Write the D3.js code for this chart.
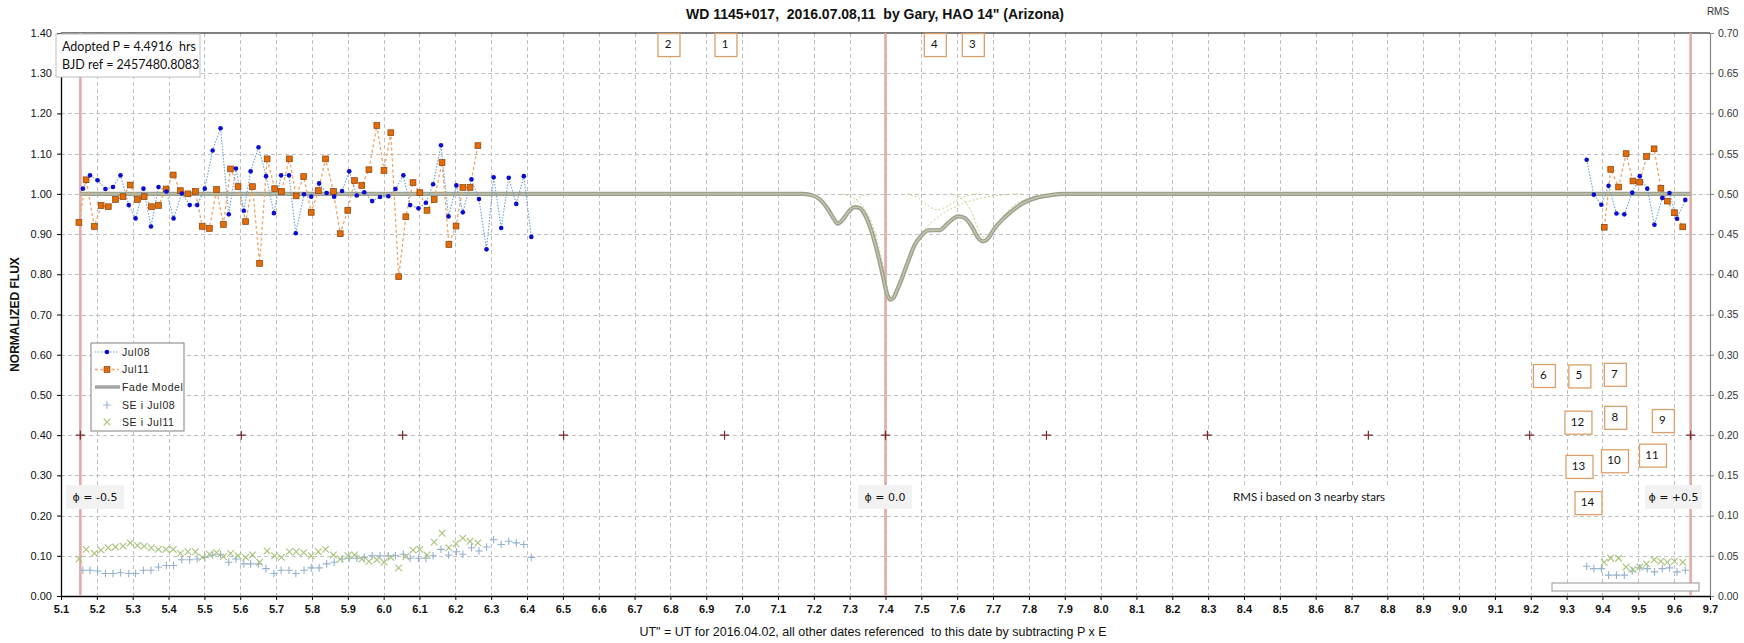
<!DOCTYPE html>
<html><head><meta charset="utf-8">
<script src="https://cdn.jsdelivr.net/npm/d3@7"></script>
<style>body{margin:0;background:#fff} svg{display:block} text{white-space:pre}</style>
</head><body><svg id="c" width="1744" height="643"></svg>
<script>
// ---------------- DATA ----------------
const jul08Time = [5.161,5.181,5.202,5.224,5.245,5.266,5.289,5.308,5.330,5.351,5.372,5.394,5.414,5.437,5.459,5.480,5.501,5.523,5.545,5.568,5.588,5.610,5.629,5.651,5.672,5.694,5.714,5.736,5.755,5.778,5.798,5.820,5.841,5.862,5.884,5.904,5.925,5.946,5.968,5.990,6.013,6.033,6.055,6.074,6.097,6.118,6.138,6.160,6.181,6.203,6.221,6.245,6.266,6.287,6.307,6.328,6.349,6.370,6.391,6.412];
const jul08Flux = [1.013,1.046,1.034,1.012,1.017,1.046,0.972,0.939,1.013,0.919,1.017,1.006,0.939,1.001,0.972,0.972,1.013,1.108,1.163,0.949,1.063,0.958,1.056,1.116,1.044,0.952,1.046,1.046,0.902,0.999,0.993,1.026,1.002,0.993,1.007,1.056,0.996,1.004,0.982,0.992,0.994,1.012,1.046,0.972,0.964,0.978,1.024,1.121,0.944,1.021,0.954,1.036,0.987,0.862,1.041,0.915,1.040,0.975,1.044,0.893];
const jul08SE   = [0.032,0.032,0.031,0.028,0.028,0.029,0.028,0.028,0.032,0.032,0.036,0.038,0.038,0.045,0.045,0.046,0.048,0.051,0.052,0.042,0.046,0.040,0.040,0.040,0.034,0.028,0.032,0.032,0.028,0.032,0.035,0.035,0.040,0.042,0.046,0.047,0.047,0.048,0.050,0.050,0.050,0.050,0.052,0.047,0.047,0.047,0.050,0.058,0.051,0.055,0.052,0.060,0.056,0.061,0.070,0.064,0.068,0.066,0.064,0.048];
const jul08TimeB = [9.356,9.376,9.397,9.417,9.439,9.461,9.483,9.504,9.525,9.545,9.567,9.587,9.608,9.631];
const jul08FluxB = [1.085,0.998,0.973,1.020,0.951,0.949,1.003,1.044,1.013,0.923,0.990,1.002,0.938,0.985];
const jul08SEB   = [0.037,0.034,0.034,0.026,0.026,0.026,0.031,0.035,0.034,0.030,0.034,0.035,0.030,0.032];

const jul11Time = [5.150,5.170,5.193,5.212,5.232,5.252,5.273,5.293,5.313,5.332,5.352,5.372,5.393,5.413,5.433,5.454,5.475,5.494,5.514,5.534,5.553,5.573,5.594,5.615,5.634,5.654,5.675,5.696,5.715,5.737,5.756,5.777,5.798,5.818,5.838,5.860,5.879,5.900,5.919,5.939,5.959,5.981,6.001,6.020,6.042,6.062,6.082,6.101,6.121,6.141,6.163,6.182,6.202,6.221,6.241,6.263];
const jul11Flux = [0.929,1.035,0.919,0.971,0.968,0.986,0.993,1.022,0.986,0.993,0.968,0.971,1.012,1.047,1.008,1.000,1.006,0.919,0.914,1.011,0.924,1.062,1.018,0.931,1.018,0.827,1.087,1.013,1.006,1.087,0.995,1.043,0.954,1.008,1.087,1.006,0.901,0.959,1.033,1.021,1.060,1.170,1.058,1.152,0.794,0.943,1.028,1.003,0.959,0.986,1.078,0.874,0.920,1.016,1.016,1.120];
const jul11SE   = [0.046,0.058,0.053,0.057,0.060,0.061,0.062,0.066,0.063,0.062,0.060,0.058,0.058,0.058,0.053,0.055,0.055,0.048,0.052,0.054,0.049,0.053,0.050,0.048,0.051,0.042,0.056,0.050,0.048,0.055,0.055,0.054,0.050,0.055,0.058,0.051,0.046,0.050,0.051,0.046,0.043,0.045,0.042,0.048,0.035,0.049,0.057,0.058,0.051,0.067,0.078,0.060,0.065,0.072,0.068,0.066];
const jul11TimeB = [9.405,9.423,9.445,9.466,9.485,9.504,9.523,9.544,9.563,9.581,9.601,9.624];
const jul11FluxB = [0.917,1.061,1.017,1.100,1.032,1.029,1.093,1.112,1.014,0.982,0.953,0.918];
const jul11SEB   = [0.042,0.047,0.047,0.036,0.033,0.036,0.040,0.045,0.043,0.042,0.043,0.042];

const modelTime = [5.154,7.166,7.193,7.217,7.240,7.257,7.266,7.277,7.296,7.314,7.328,7.342,7.361,7.380,7.393,7.403,7.413,7.423,7.433,7.445,7.463,7.482,7.500,7.519,7.552,7.575,7.603,7.621,7.640,7.659,7.673,7.687,7.705,7.724,7.750,7.780,7.820,7.860,7.900,9.646];
const modelFlux = [1.000,1.000,0.997,0.986,0.961,0.936,0.926,0.932,0.954,0.967,0.965,0.949,0.907,0.845,0.795,0.755,0.737,0.742,0.762,0.788,0.832,0.874,0.896,0.909,0.910,0.928,0.944,0.940,0.920,0.890,0.882,0.890,0.915,0.934,0.955,0.975,0.990,0.997,1.000,1.000];

const comp1Time = [7.15,7.19,7.22,7.245,7.266,7.285,7.305,7.33,7.36];
const comp1Flux = [1,0.997,0.982,0.95,0.928,0.945,0.972,0.993,1];
const comp2Time = [7.28,7.31,7.34,7.37,7.395,7.413,7.435,7.46,7.50,7.55,7.60,7.66,7.72,7.78];
const comp2Flux = [1,0.99,0.965,0.905,0.815,0.745,0.775,0.83,0.90,0.945,0.97,0.988,0.997,1];
const comp3Time = [7.46,7.49,7.52,7.545,7.57,7.60,7.63,7.66];
const comp3Flux = [1,0.99,0.97,0.96,0.968,0.985,0.996,1];
const comp4Time = [7.58,7.61,7.64,7.66,7.677,7.695,7.72,7.76,7.80,7.85];
const comp4Flux = [1,0.99,0.955,0.91,0.89,0.9,0.935,0.972,0.99,1];

const phaseLines = [5.154, 7.400, 9.646];
const phaseLineLabels = ["\u03D5 = -0.5", "\u03D5 = 0.0", "\u03D5 = +0.5"];
const phaseTicks = [5.154,5.603,6.053,6.502,6.951,7.400,7.849,8.298,8.747,9.197,9.646];
const phaseTickLevel = 0.40;

const fragLabels = ["2","1","4","3","6","5","7","12","8","9","13","10","11","14"];
const fragTime   = [6.796,6.955,7.539,7.645,9.238,9.337,9.436,9.333,9.437,9.570,9.336,9.435,9.541,9.361];
const fragFlux   = [1.370,1.370,1.370,1.370,0.547,0.546,0.550,0.431,0.443,0.435,0.321,0.335,0.349,0.231];

const legendLabels = ["Jul08","Jul11","Fade Model","SE i Jul08","SE i Jul11"];
const titleText = "WD 1145+017,  2016.07.08,11  by Gary, HAO 14\" (Arizona)";
const xTitle = "UT\" = UT for 2016.04.02, all other dates referenced  to this date by subtracting P x E";
const yTitle = "NORMALIZED FLUX";
const infoLines = ["Adopted P = 4.4916  hrs", "BJD ref = 2457480.8083"];
const rmsNote = "RMS i based on 3 nearby stars";

// ---------------- CHART ----------------
const svg = d3.select("#c");
const L = 61, R = 1710, T = 33, B = 596;
const x = d3.scaleLinear().domain([5.1, 9.7]).range([L, R]);
const y = d3.scaleLinear().domain([0, 1.4]).range([B, T]);
const yR = d3.scaleLinear().domain([0, 0.7]).range([B, T]);

const xTicks = d3.range(0, 47).map(i => +(5.1 + i * 0.1).toFixed(1));
const yTicks = d3.range(0, 15).map(i => +(i * 0.1).toFixed(1));
const yRTicks = d3.range(0, 15).map(i => +(i * 0.05).toFixed(2));

const grid = svg.append("g").attr("stroke", "#c0c0c0").attr("stroke-width", 1).attr("stroke-dasharray", "4,3");
grid.selectAll(".vg").data(xTicks.slice(1, -1)).join("line")
  .attr("x1", d => Math.round(x(d)) + 0.5).attr("x2", d => Math.round(x(d)) + 0.5).attr("y1", T).attr("y2", B);
grid.selectAll(".hg").data(yTicks.slice(1, -1)).join("line")
  .attr("y1", d => Math.round(y(d)) + 0.5).attr("y2", d => Math.round(y(d)) + 0.5).attr("x1", L).attr("x2", R);

// axes
const axL = svg.append("g").attr("transform", `translate(${L},0)`)
  .call(d3.axisLeft(y).tickValues(yTicks).tickFormat(d3.format(".2f")).tickSize(4).tickSizeOuter(0));
axL.select(".domain").attr("stroke", "#000").attr("stroke-width", 1.3);
axL.selectAll("text").attr("font-family", "Liberation Sans, Arial, sans-serif").attr("font-size", 11).attr("fill", "#111").attr("x", -9);

const axR = svg.append("g").attr("transform", `translate(${R},0)`)
  .call(d3.axisRight(yR).tickValues(yRTicks).tickFormat(d3.format(".2f")).tickSize(4).tickSizeOuter(0));
axR.select(".domain").attr("stroke", "#868686").attr("stroke-width", 1.2);
axR.selectAll(".tick line").attr("stroke", "#868686");
axR.selectAll("text").attr("font-family", "Liberation Sans, Arial, sans-serif").attr("font-size", 10.5).attr("fill", "#333").attr("x", 8);

const axB = svg.append("g").attr("transform", `translate(0,${B})`)
  .call(d3.axisBottom(x).tickValues(xTicks).tickFormat(d3.format(".1f")).tickSize(4).tickSizeOuter(0));
axB.select(".domain").attr("stroke", "#000").attr("stroke-width", 1.5);
axB.selectAll("text").attr("font-family", "Liberation Sans, Arial, sans-serif").attr("font-size", 11).attr("font-weight", "bold").attr("fill", "#111").attr("y", 9);

svg.append("line").attr("x1", L).attr("x2", R).attr("y1", T).attr("y2", T).attr("stroke", "#000").attr("stroke-width", 1.2);

// phase lines
svg.append("g").selectAll("line").data(phaseLines).join("line")
  .attr("x1", d => x(d)).attr("x2", d => x(d)).attr("y1", T).attr("y2", B)
  .attr("stroke", "#e3aca7").attr("stroke-width", 2.6);

// phase tick markers
const plus = (s) => `M${-s},0H${s}M0,${-s}V${s}`;
const cross = (s) => `M${-s},${-s}L${s},${s}M${-s},${s}L${s},${-s}`;
svg.append("g").selectAll("path").data(phaseTicks).join("path")
  .attr("transform", d => `translate(${x(d)},${y(phaseTickLevel)})`)
  .attr("d", plus(4.5)).attr("stroke", "#7a2a2a").attr("stroke-width", 1.2).attr("fill", "none");

// model components
const compLine = d3.line().x(d => x(d[0])).y(d => y(d[1])).curve(d3.curveMonotoneX);
const comps = [[comp1Time, comp1Flux], [comp2Time, comp2Flux], [comp3Time, comp3Flux], [comp4Time, comp4Flux]];
svg.append("g").selectAll("path").data(comps).join("path")
  .attr("d", c => compLine(d3.zip(c[0], c[1])))
  .attr("fill", "none").attr("stroke", "#bfd290").attr("stroke-width", 1).attr("stroke-dasharray", "2,2");

// model
const modelPts = d3.zip(modelTime, modelFlux);
svg.append("path").attr("d", compLine(modelPts)).attr("fill", "none").attr("stroke", "#9ea08f").attr("stroke-width", 4.2).attr("stroke-linejoin", "round");
svg.append("path").attr("d", compLine(modelPts)).attr("fill", "none").attr("stroke", "#c4c8ae").attr("stroke-width", 1.4).attr("stroke-linejoin", "round");

// SE markers
function seMarks(times, vals, shape, color) {
  svg.append("g").selectAll("path").data(d3.zip(times, vals)).join("path")
    .attr("transform", d => `translate(${x(d[0])},${yR(d[1])})`)
    .attr("d", shape).attr("stroke", color).attr("stroke-width", 1.1).attr("fill", "none");
}
seMarks(jul08Time, jul08SE, plus(3.8), "#95b0d0");
seMarks(jul08TimeB, jul08SEB, plus(3.8), "#95b0d0");
seMarks(jul11Time, jul11SE, cross(3.3), "#a8c27a");
seMarks(jul11TimeB, jul11SEB, cross(3.3), "#a8c27a");

// connecting lines
const ln = d3.line().x(d => x(d[0])).y(d => y(d[1]));
[[jul11Time, jul11Flux], [jul11TimeB, jul11FluxB]].forEach(s => {
  svg.append("path").attr("d", ln(d3.zip(s[0], s[1]))).attr("fill", "none")
    .attr("stroke", "#eda568").attr("stroke-width", 1.3).attr("stroke-dasharray", "3,2.5");
});
[[jul08Time, jul08Flux], [jul08TimeB, jul08FluxB]].forEach(s => {
  svg.append("path").attr("d", ln(d3.zip(s[0], s[1]))).attr("fill", "none")
    .attr("stroke", "#6c9fd6").attr("stroke-width", 1.1).attr("stroke-dasharray", "1.5,1.5");
});
// markers
[[jul11Time, jul11Flux], [jul11TimeB, jul11FluxB]].forEach(s => {
  svg.append("g").selectAll("rect").data(d3.zip(s[0], s[1])).join("rect")
    .attr("x", d => x(d[0]) - 2.9).attr("y", d => y(d[1]) - 2.9).attr("width", 5.8).attr("height", 5.8)
    .attr("fill", "#e36c0a").attr("stroke", "#8a4008").attr("stroke-width", 0.7);
});
[[jul08Time, jul08Flux], [jul08TimeB, jul08FluxB]].forEach(s => {
  svg.append("g").selectAll("circle").data(d3.zip(s[0], s[1])).join("circle")
    .attr("cx", d => x(d[0])).attr("cy", d => y(d[1])).attr("r", 2.3).attr("fill", "#0a0ad0");
});

// fragment label boxes
const fg = svg.append("g");
fragLabels.forEach((t, i) => {
  const w = t.length > 1 ? 27 : 22, h = 23;
  const cx = x(fragTime[i]), cy = y(fragFlux[i]);
  fg.append("rect").attr("x", cx - w / 2).attr("y", cy - h / 2).attr("width", w).attr("height", h)
    .attr("fill", "#fff").attr("stroke", "#d9a06a").attr("stroke-width", 1.3);
  fg.append("text").attr("x", cx - 1).attr("y", cy + 3).attr("text-anchor", "middle")
    .attr("font-family", "Lato, Open Sans, sans-serif").attr("font-size", 11.5).attr("fill", "#111").text(t);
});

// phase labels
const phaseBoxX = [[66, 124], [858, 912], [1645, 1702]];
phaseLineLabels.forEach((t, i) => {
  const [a, b] = phaseBoxX[i];
  svg.append("rect").attr("x", a).attr("y", 485).attr("width", b - a).attr("height", 24).attr("fill", "#f2f2f2");
  svg.append("text").attr("x", (a + b) / 2).attr("y", 501).attr("text-anchor", "middle")
    .attr("font-family", "DejaVu Sans, sans-serif").attr("font-size", 11).attr("fill", "#111").text(t);
});

// rms note
svg.append("rect").attr("x", 1228).attr("y", 486).attr("width", 172).attr("height", 30).attr("fill", "#fff");
svg.append("text").attr("x", 1233).attr("y", 501).attr("font-family", "Lato, Open Sans, sans-serif")
  .attr("font-size", 11.5).attr("fill", "#111").text(rmsNote);

// bottom small box
svg.append("rect").attr("x", 1552).attr("y", 583).attr("width", 147).attr("height", 8)
  .attr("fill", "#fff").attr("stroke", "#a6a6a6").attr("stroke-width", 1.2);

// info box
svg.append("rect").attr("x", 56).attr("y", 34).attr("width", 144).attr("height", 43)
  .attr("fill", "#fff").attr("stroke", "#bfbfbf").attr("stroke-width", 1);
infoLines.forEach((t, i) => {
  svg.append("text").attr("x", 62).attr("y", 51 + i * 18).attr("font-family", "Lato, Open Sans, sans-serif")
    .attr("font-size", 12.5).attr("fill", "#111").text(t);
});

// legend
const lg = svg.append("g");
lg.append("rect").attr("x", 91).attr("y", 343).attr("width", 93).attr("height", 88)
  .attr("fill", "#fff").attr("stroke", "#808080").attr("stroke-width", 1);
const rowY = [352, 369.5, 387, 405, 422];
const lf = "Liberation Sans, Arial, sans-serif";
legendLabels.forEach((t, i) => {
  lg.append("text").attr("x", 122).attr("y", rowY[i] + 3.5).attr("font-family", lf).attr("font-size", 10.5)
    .attr("letter-spacing", 0.6).attr("fill", "#222").text(t);
});
lg.append("line").attr("x1", 95).attr("x2", 119).attr("y1", rowY[0]).attr("y2", rowY[0]).attr("stroke", "#6c9fd6").attr("stroke-dasharray", "1.5,1.5").attr("stroke-width", 1.1);
lg.append("circle").attr("cx", 107).attr("cy", rowY[0]).attr("r", 2.3).attr("fill", "#0a0ad0");
lg.append("line").attr("x1", 95).attr("x2", 119).attr("y1", rowY[1]).attr("y2", rowY[1]).attr("stroke", "#eda568").attr("stroke-dasharray", "3,2.5").attr("stroke-width", 1.3);
lg.append("rect").attr("x", 104.1).attr("y", rowY[1] - 2.9).attr("width", 5.8).attr("height", 5.8).attr("fill", "#e36c0a").attr("stroke", "#8a4008").attr("stroke-width", 0.7);
lg.append("line").attr("x1", 95).attr("x2", 120).attr("y1", rowY[2]).attr("y2", rowY[2]).attr("stroke", "#a6a6a6").attr("stroke-width", 3.5);
lg.append("path").attr("transform", `translate(107,${rowY[3]})`).attr("d", plus(3.8)).attr("stroke", "#95b0d0").attr("stroke-width", 1.1);
lg.append("path").attr("transform", `translate(107,${rowY[4]})`).attr("d", cross(3.3)).attr("stroke", "#a8c27a").attr("stroke-width", 1.1);

// titles
svg.append("text").attr("x", 875).attr("y", 19).attr("text-anchor", "middle").attr("font-family", lf)
  .attr("font-size", 14).attr("font-weight", "bold").attr("fill", "#111").text(titleText);
svg.append("text").attr("x", 873).attr("y", 636).attr("text-anchor", "middle").attr("font-family", lf)
  .attr("font-size", 12.5).attr("fill", "#111").text(xTitle);
svg.append("text").attr("transform", `translate(19,${(T + B) / 2}) rotate(-90)`).attr("text-anchor", "middle")
  .attr("font-family", lf).attr("font-size", 12).attr("font-weight", "bold").attr("fill", "#111").text(yTitle);
svg.append("text").attr("x", 1718).attr("y", 15).attr("text-anchor", "middle").attr("font-family", lf)
  .attr("font-size", 10).attr("fill", "#333").text("RMS");
</script></body></html>
